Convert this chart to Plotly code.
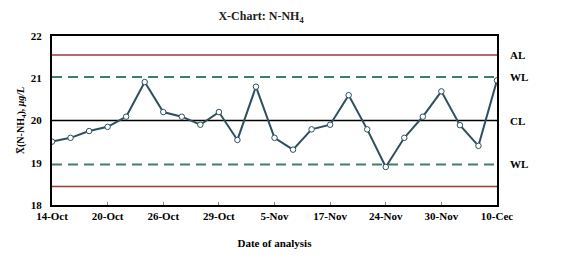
import plotly.graph_objects as go

tick_labels = ["14-Oct", "20-Oct", "26-Oct", "29-Oct", "5-Nov", "17-Nov", "24-Nov", "30-Nov", "10-Cec"]
values = [19.50, 19.59, 19.75, 19.85, 20.09, 20.91, 20.20, 20.09, 19.90, 20.20,
          19.54, 20.80, 19.59, 19.31, 19.79, 19.90, 20.60, 19.79, 18.90, 19.59,
          20.09, 20.69, 19.89, 19.40, 20.95]
limit_names = ["AL", "WL", "CL", "WL"]
limit_values = [21.55, 21.03, 20.0, 18.96]
lower_al = 18.44

x = list(range(len(values)))
tick_pos = list(range(0, len(values), 3))

fig = go.Figure()
serif = "Liberation Serif"
xr = [x[0], x[-1]]
fig.add_trace(go.Scatter(x=xr, y=[limit_values[0]] * 2, mode="lines",
                         line=dict(color="#9a3b3b", width=1.5), hoverinfo="skip"))
fig.add_trace(go.Scatter(x=xr, y=[lower_al] * 2, mode="lines",
                         line=dict(color="#9a3b3b", width=1.5), hoverinfo="skip"))
for v in [limit_values[1], limit_values[3]]:
    fig.add_trace(go.Scatter(x=xr, y=[v] * 2, mode="lines",
                             line=dict(color="#3f7f6a", width=2, dash="10px,6px"), hoverinfo="skip"))
fig.add_trace(go.Scatter(x=xr, y=[limit_values[2]] * 2, mode="lines",
                         line=dict(color="black", width=1.5), hoverinfo="skip"))
fig.add_trace(go.Scatter(x=x, y=values, mode="lines+markers",
                         line=dict(color="#2e4f5f", width=2),
                         marker=dict(size=5.5, color="white", line=dict(color="#2e4f5f", width=1))))

for name, v in zip(limit_names, limit_values):
    fig.add_annotation(x=1.025, xref="paper", y=v, yref="y", text="<b>%s</b>" % name,
                       showarrow=False, xanchor="left", yanchor="middle",
                       font=dict(family=serif, size=11, color="black"))

fig.update_layout(
    width=564, height=260,
    margin=dict(l=52, r=67, t=36, b=55),
    paper_bgcolor="white", plot_bgcolor="white",
    showlegend=False,
    title=dict(text="<b>X-Chart: N-NH<sub>4</sub></b>", x=261 / 564, xanchor="center",
               y=1 - 16 / 260, yanchor="middle", font=dict(family=serif, size=12, color="#222")),
    xaxis=dict(range=[x[0], x[-1]], tickvals=tick_pos, ticktext=["<b>%s</b>" % t for t in tick_labels],
               showgrid=False, zeroline=False, showline=True, linecolor="black", linewidth=2,
               mirror=True, ticks="inside", ticklen=3, tickcolor="#888",
               tickfont=dict(family=serif, size=11, color="black"),
               title=dict(text="<b>Date of analysis</b>", font=dict(family=serif, size=11, color="black"),
                          standoff=18)),
    yaxis=dict(range=[18, 22], tickvals=[18, 19, 20, 21, 22], ticktext=["<b>%d</b>" % v for v in [18, 19, 20, 21, 22]],
               showgrid=False, zeroline=False, showline=True, linecolor="black", linewidth=2,
               mirror=True, ticks="", ticklabelstandoff=6,
               tickfont=dict(family=serif, size=11, color="black"),
               title=dict(text="<b>X\u0305(N-NH<sub>4</sub>), <i>\u03bcg/L</i></b>",
                          font=dict(family=serif, size=10, color="black"), standoff=4)),
)

fig.write_html("out.html")
